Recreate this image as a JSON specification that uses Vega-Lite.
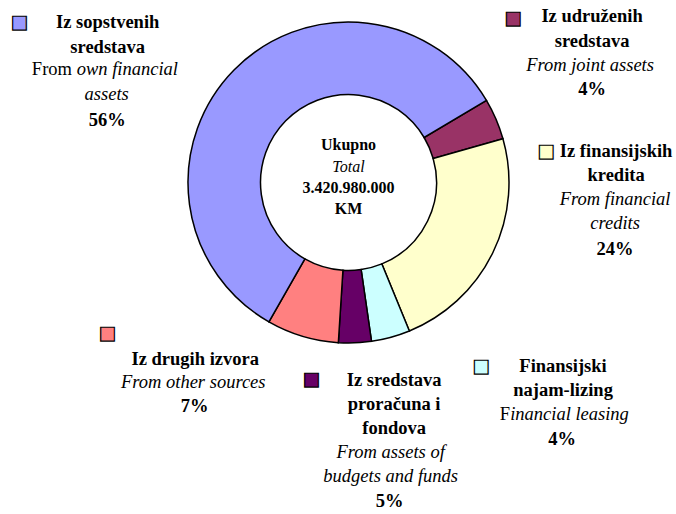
{
  "$schema": "https://vega.github.io/schema/vega-lite/v6.json",
  "autosize": "none",
  "width": 655,
  "height": 365,
  "padding": {"left": 21, "top": 0, "right": 0, "bottom": 149},
  "background": "white",
  "config": {"view": {"stroke": null}},
  "datasets": {
    "slices": [
      {"order": 1, "key": "joint", "value": 4.15, "title": "Iz udruženih\nsredstava", "sub": "From joint assets", "pct": "4%"},
      {"order": 2, "key": "credits", "value": 23.2, "title": "Iz finansijskih\nkredita", "sub": "From financial\ncredits", "pct": "24%"},
      {"order": 3, "key": "leasing", "value": 3.9, "title": "Finansijski\nnajam-lizing", "subA": "F", "subB": "inancial leasing", "pct": "4%"},
      {"order": 4, "key": "budgets", "value": 3.3, "title": "Iz sredstava\nproračuna i\nfondova", "sub": "From assets of\nbudgets and funds", "pct": "5%"},
      {"order": 5, "key": "other", "value": 7.25, "title": "Iz drugih izvora", "sub": "From other sources", "pct": "7%"},
      {"order": 6, "key": "own", "value": 58.2, "title": "Iz sopstvenih\nsredstava", "subA": "From", "subB": "own financial", "subC": "assets", "pct": "56%"}
    ],
    "center": [{"a": "Ukupno", "b": "Total", "c": "3.420.980.000\nKM"}]
  },
  "layer": [
    {
      "data": {"name": "slices"},
      "transform": [
        {"window": [{"op": "sum", "field": "value", "as": "cum"}], "sort": [{"field": "order"}], "frame": [null, 0]},
        {"calculate": "datum.cum - datum.value / 2", "as": "mid"}
      ],
      "layer": [
        {
          "mark": {"type": "arc", "outerRadius": 160.5, "innerRadius": 88, "stroke": "black", "strokeWidth": 1.5},
          "encoding": {
            "theta": {"field": "value", "type": "quantitative", "stack": true, "scale": {"domain": [0, 100], "range": [1.03411, 7.31730]}},
            "order": {"field": "order", "type": "quantitative"},
            "color": {"field": "key", "type": "nominal", "legend": null,
              "scale": {"domain": ["joint", "credits", "leasing", "budgets", "other", "own"],
                        "range": ["#993366", "#FFFFCC", "#CCFFFF", "#660066", "#FF8080", "#9999FF"]}}
          }
        },
        {
          "transform": [{"filter": "datum.key == 'own'"}],
          "encoding": {"theta": {"field": "mid", "type": "quantitative", "stack": null}},
          "layer": [
            {"mark": {"type": "text", "radius": 250, "dx": -62.5, "dy": 21, "align": "center", "baseline": "alphabetic", "font": "Liberation Serif", "fontSize": 18.5, "fontWeight": "bold", "lineHeight": 24.5, "lineBreak": "\n", "color": "black"}, "encoding": {"text": {"field": "title"}}},
            {"mark": {"type": "text", "radius": 250, "dx": -138.3, "dy": 68, "align": "left", "baseline": "alphabetic", "font": "Liberation Serif", "fontSize": 18.5, "color": "black"}, "encoding": {"text": {"field": "subA"}}},
            {"mark": {"type": "text", "radius": 250, "dx": -93.4, "dy": 68, "align": "left", "baseline": "alphabetic", "font": "Liberation Serif", "fontSize": 18.5, "fontStyle": "italic", "color": "black"}, "encoding": {"text": {"field": "subB"}}},
            {"mark": {"type": "text", "radius": 250, "dx": -63.5, "dy": 92.5, "align": "center", "baseline": "alphabetic", "font": "Liberation Serif", "fontSize": 18.5, "fontStyle": "italic", "color": "black"}, "encoding": {"text": {"field": "subC"}}},
            {"mark": {"type": "text", "radius": 250, "dx": -63, "dy": 119, "align": "center", "baseline": "alphabetic", "font": "Liberation Serif", "fontSize": 18.5, "fontWeight": "bold", "color": "black"}, "encoding": {"text": {"field": "pct"}}},
            {"mark": {"type": "text", "radius": 250, "dx": -151, "dy": 16, "align": "center", "baseline": "middle", "font": "DejaVu Sans", "fontSize": 18, "text": "■", "stroke": "black", "strokeWidth": 1.2}, "encoding": {"color": {"field": "key", "type": "nominal", "legend": null}}}
          ]
        },
        {
          "transform": [{"filter": "datum.key == 'joint'"}],
          "encoding": {"theta": {"field": "mid", "type": "quantitative", "stack": null}},
          "layer": [
            {"mark": {"type": "text", "radius": 250, "dx": 13.9, "dy": -61.6, "align": "center", "baseline": "alphabetic", "font": "Liberation Serif", "fontSize": 18.5, "fontWeight": "bold", "lineHeight": 24.5, "lineBreak": "\n", "color": "black"}, "encoding": {"text": {"field": "title"}}},
            {"mark": {"type": "text", "radius": 250, "dx": 11.9, "dy": -12.6, "align": "center", "baseline": "alphabetic", "font": "Liberation Serif", "fontSize": 18.5, "fontStyle": "italic", "lineHeight": 24.5, "lineBreak": "\n", "color": "black"}, "encoding": {"text": {"field": "sub"}}},
            {"mark": {"type": "text", "radius": 250, "dx": 13.9, "dy": 11.4, "align": "center", "baseline": "alphabetic", "font": "Liberation Serif", "fontSize": 18.5, "fontWeight": "bold", "color": "black"}, "encoding": {"text": {"field": "pct"}}},
            {"mark": {"type": "text", "radius": 250, "dx": -65.1, "dy": -65.1, "align": "center", "baseline": "middle", "font": "DejaVu Sans", "fontSize": 18, "text": "■", "stroke": "black", "strokeWidth": 1.2}, "encoding": {"color": {"field": "key", "type": "nominal", "legend": null}}}
          ]
        },
        {
          "transform": [{"filter": "datum.key == 'credits'"}],
          "encoding": {"theta": {"field": "mid", "type": "quantitative", "stack": null}},
          "layer": [
            {"mark": {"type": "text", "radius": 250, "dx": 42.8, "dy": -135.1, "align": "center", "baseline": "alphabetic", "font": "Liberation Serif", "fontSize": 18.5, "fontWeight": "bold", "lineHeight": 24.5, "lineBreak": "\n", "color": "black"}, "encoding": {"text": {"field": "title"}}},
            {"mark": {"type": "text", "radius": 250, "dx": 41.8, "dy": -87.1, "align": "center", "baseline": "alphabetic", "font": "Liberation Serif", "fontSize": 18.5, "fontStyle": "italic", "lineHeight": 24.5, "lineBreak": "\n", "color": "black"}, "encoding": {"text": {"field": "sub"}}},
            {"mark": {"type": "text", "radius": 250, "dx": 41.8, "dy": -37.1, "align": "center", "baseline": "alphabetic", "font": "Liberation Serif", "fontSize": 18.5, "fontWeight": "bold", "color": "black"}, "encoding": {"text": {"field": "pct"}}},
            {"mark": {"type": "text", "radius": 250, "dx": -27.2, "dy": -140.1, "align": "center", "baseline": "middle", "font": "DejaVu Sans", "fontSize": 18, "text": "■", "stroke": "black", "strokeWidth": 1.2}, "encoding": {"color": {"field": "key", "type": "nominal", "legend": null}}}
          ]
        },
        {
          "transform": [{"filter": "datum.key == 'leasing'"}],
          "encoding": {"theta": {"field": "mid", "type": "quantitative", "stack": null}},
          "layer": [
            {"mark": {"type": "text", "radius": 250, "dx": 148.7, "dy": -51.8, "align": "center", "baseline": "alphabetic", "font": "Liberation Serif", "fontSize": 18.5, "fontWeight": "bold", "lineHeight": 24.5, "lineBreak": "\n", "color": "black"}, "encoding": {"text": {"field": "title"}}},
            {"mark": {"type": "text", "radius": 250, "dx": 85.5, "dy": -3.8, "align": "left", "baseline": "alphabetic", "font": "Liberation Serif", "fontSize": 18.5, "color": "black"}, "encoding": {"text": {"field": "subA"}}},
            {"mark": {"type": "text", "radius": 250, "dx": 95.8, "dy": -3.8, "align": "left", "baseline": "alphabetic", "font": "Liberation Serif", "fontSize": 18.5, "fontStyle": "italic", "color": "black"}, "encoding": {"text": {"field": "subB"}}},
            {"mark": {"type": "text", "radius": 250, "dx": 147.7, "dy": 21.2, "align": "center", "baseline": "alphabetic", "font": "Liberation Serif", "fontSize": 18.5, "fontWeight": "bold", "color": "black"}, "encoding": {"text": {"field": "pct"}}},
            {"mark": {"type": "text", "radius": 250, "dx": 66.7, "dy": -56.8, "align": "center", "baseline": "middle", "font": "DejaVu Sans", "fontSize": 18, "text": "■", "stroke": "black", "strokeWidth": 1.2}, "encoding": {"color": {"field": "key", "type": "nominal", "legend": null}}}
          ]
        },
        {
          "transform": [{"filter": "datum.key == 'budgets'"}],
          "encoding": {"theta": {"field": "mid", "type": "quantitative", "stack": null}},
          "layer": [
            {"mark": {"type": "text", "radius": 250, "dx": 35.6, "dy": -46.3, "align": "center", "baseline": "alphabetic", "font": "Liberation Serif", "fontSize": 18.5, "fontWeight": "bold", "lineHeight": 24, "lineBreak": "\n", "color": "black"}, "encoding": {"text": {"field": "title"}}},
            {"mark": {"type": "text", "radius": 250, "dx": 32.1, "dy": 25.7, "align": "center", "baseline": "alphabetic", "font": "Liberation Serif", "fontSize": 18.5, "fontStyle": "italic", "lineHeight": 24.5, "lineBreak": "\n", "color": "black"}, "encoding": {"text": {"field": "sub"}}},
            {"mark": {"type": "text", "radius": 250, "dx": 31.1, "dy": 74.7, "align": "center", "baseline": "alphabetic", "font": "Liberation Serif", "fontSize": 18.5, "fontWeight": "bold", "color": "black"}, "encoding": {"text": {"field": "pct"}}},
            {"mark": {"type": "text", "radius": 250, "dx": -47.4, "dy": -52.3, "align": "center", "baseline": "middle", "font": "DejaVu Sans", "fontSize": 18, "text": "■", "stroke": "black", "strokeWidth": 1.2}, "encoding": {"color": {"field": "key", "type": "nominal", "legend": null}}}
          ]
        },
        {
          "transform": [{"filter": "datum.key == 'other'"}],
          "encoding": {"theta": {"field": "mid", "type": "quantitative", "stack": null}},
          "layer": [
            {"mark": {"type": "text", "radius": 250, "dx": -81.5, "dy": -56.8, "align": "center", "baseline": "alphabetic", "font": "Liberation Serif", "fontSize": 18.5, "fontWeight": "bold", "lineHeight": 24.5, "lineBreak": "\n", "color": "black"}, "encoding": {"text": {"field": "title"}}},
            {"mark": {"type": "text", "radius": 250, "dx": -83.5, "dy": -33.8, "align": "center", "baseline": "alphabetic", "font": "Liberation Serif", "fontSize": 18.5, "fontStyle": "italic", "lineHeight": 24.5, "lineBreak": "\n", "color": "black"}, "encoding": {"text": {"field": "sub"}}},
            {"mark": {"type": "text", "radius": 250, "dx": -82, "dy": -9.8, "align": "center", "baseline": "alphabetic", "font": "Liberation Serif", "fontSize": 18.5, "fontWeight": "bold", "color": "black"}, "encoding": {"text": {"field": "pct"}}},
            {"mark": {"type": "text", "radius": 250, "dx": -169.5, "dy": -87.8, "align": "center", "baseline": "middle", "font": "DejaVu Sans", "fontSize": 18, "text": "■", "stroke": "black", "strokeWidth": 1.2}, "encoding": {"color": {"field": "key", "type": "nominal", "legend": null}}}
          ]
        }
      ]
    },
    {
      "data": {"name": "center"},
      "layer": [
        {"mark": {"type": "text", "dy": -32.5, "align": "center", "baseline": "alphabetic", "font": "Liberation Serif", "fontSize": 16, "fontWeight": "bold", "color": "black"}, "encoding": {"text": {"field": "a"}}},
        {"mark": {"type": "text", "dy": -10.5, "align": "center", "baseline": "alphabetic", "font": "Liberation Serif", "fontSize": 16, "fontStyle": "italic", "color": "black"}, "encoding": {"text": {"field": "b"}}},
        {"mark": {"type": "text", "dy": 10.5, "align": "center", "baseline": "alphabetic", "font": "Liberation Serif", "fontSize": 16, "fontWeight": "bold", "lineHeight": 21, "lineBreak": "\n", "color": "black"}, "encoding": {"text": {"field": "c"}}}
      ]
    }
  ]
}
